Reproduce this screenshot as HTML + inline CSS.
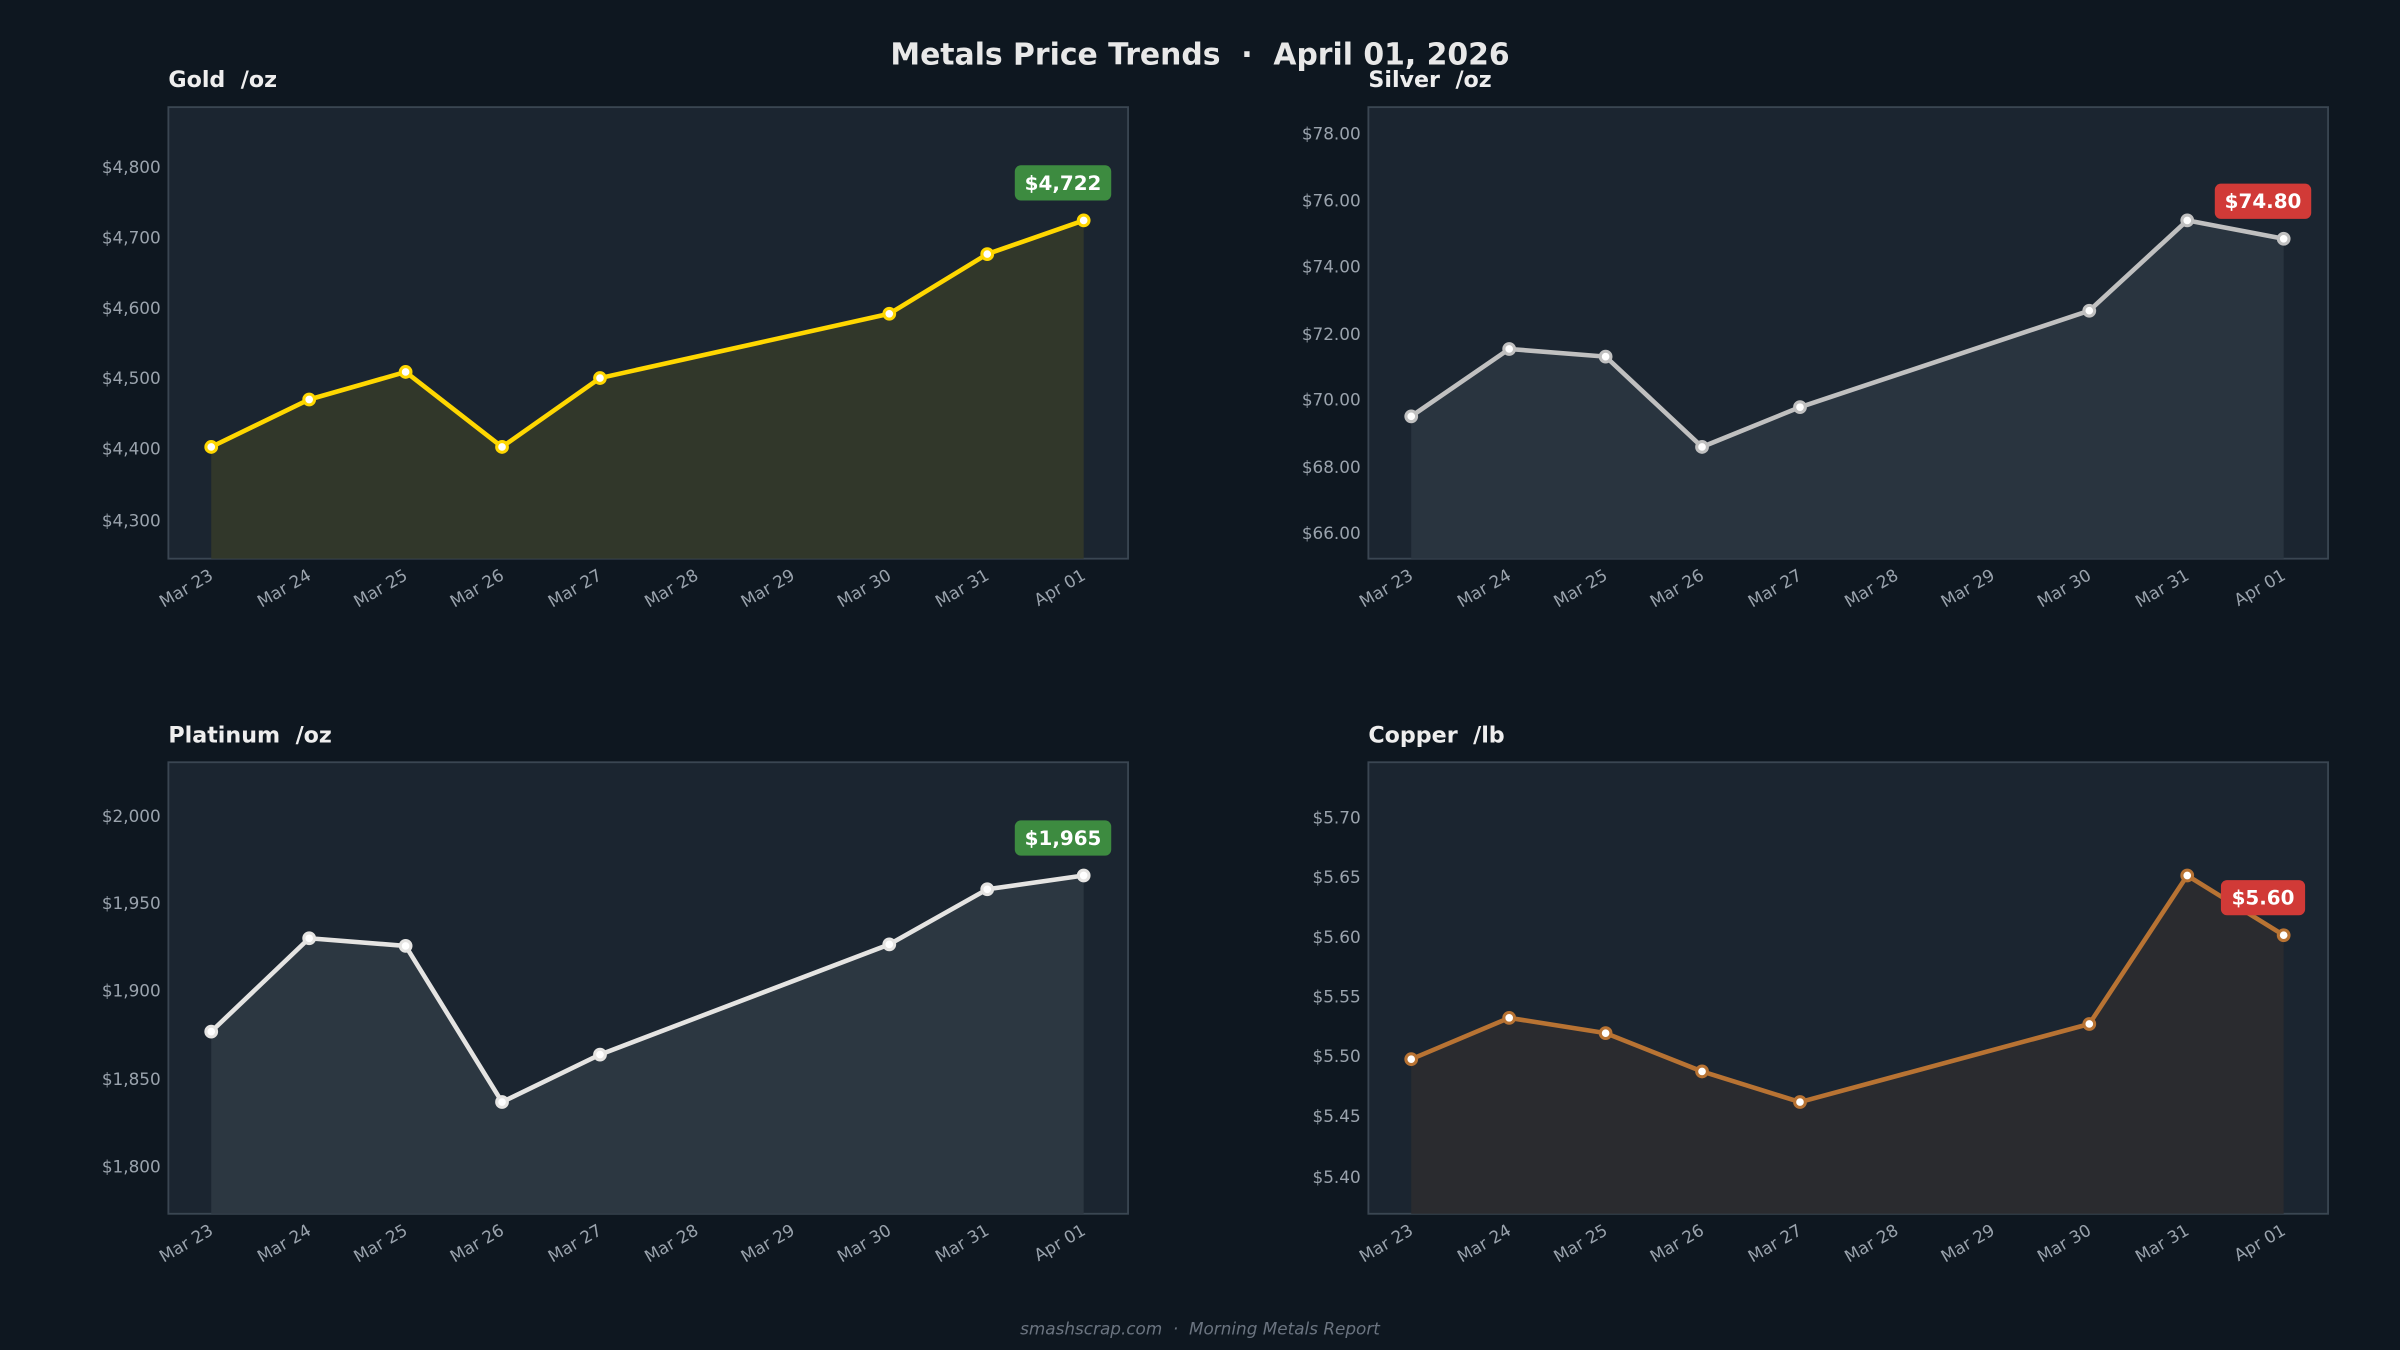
<!DOCTYPE html>
<html><head><meta charset="utf-8"><style>
html,body{margin:0;padding:0;background:#0e1720;}
svg{display:block}
text{font-family:"DejaVu Sans","Liberation Sans",sans-serif;white-space:pre}
</style></head><body>
<svg width="2400" height="1350" viewBox="0 0 1568 882" xmlns="http://www.w3.org/2000/svg" xml:space="preserve">
<rect width="1568" height="882" fill="#0e1720"/>
<text x="784" y="42" text-anchor="middle" font-size="19.5" font-weight="bold" fill="#e8e8e8">Metals Price Trends  ·  April 01, 2026</text>

<text x="110" y="57" font-size="14.5" font-weight="bold" fill="#eeeeee">Gold  /oz</text>
<rect x="110" y="70" width="627" height="295" fill="#1b2530" stroke="#3a4652" stroke-width="1.2"/>
<g font-size="11" fill="#9aa3ad" text-anchor="end">
<text x="105" y="113">$4,800</text><text x="105" y="159">$4,700</text><text x="105" y="205">$4,600</text><text x="105" y="251">$4,500</text><text x="105" y="297">$4,400</text><text x="105" y="344">$4,300</text>
</g>
<polygon points="138,365 138,292 202,261 265,243 328,292 392,247 581,205 645,166 708,144 708,365" fill="#31372a"/>
<polyline points="138,292 202,261 265,243 328,292 392,247 581,205 645,166 708,144" fill="none" stroke="#ffd700" stroke-width="3" stroke-linejoin="round"/>
<g fill="#fff" stroke="#ffd700" stroke-width="2"><circle cx="138" cy="292" r="3.5"/><circle cx="202" cy="261" r="3.5"/><circle cx="265" cy="243" r="3.5"/><circle cx="328" cy="292" r="3.5"/><circle cx="392" cy="247" r="3.5"/><circle cx="581" cy="205" r="3.5"/><circle cx="645" cy="166" r="3.5"/><circle cx="708" cy="144" r="3.5"/></g>
<rect x="663" y="108" width="63" height="23" rx="4" fill="#3d8b40"/>
<text x="694.5" y="124" text-anchor="middle" font-size="13" font-weight="bold" fill="#fff">$4,722</text>

<text x="894" y="57" font-size="14.5" font-weight="bold" fill="#eeeeee">Silver  /oz</text>
<rect x="894" y="70" width="627" height="295" fill="#1b2530" stroke="#3a4652" stroke-width="1.2"/>
<g font-size="11" fill="#9aa3ad" text-anchor="end">
<text x="889" y="91">$78.00</text><text x="889" y="135">$76.00</text><text x="889" y="178">$74.00</text><text x="889" y="222">$72.00</text><text x="889" y="265">$70.00</text><text x="889" y="309">$68.00</text><text x="889" y="352">$66.00</text>
</g>
<polygon points="922,365 922,272 986,228 1049,233 1112,292 1176,266 1365,203 1429,144 1492,156 1492,365" fill="#29343f"/>
<polyline points="922,272 986,228 1049,233 1112,292 1176,266 1365,203 1429,144 1492,156" fill="none" stroke="#c0c0c0" stroke-width="3" stroke-linejoin="round"/>
<g fill="#fff" stroke="#c0c0c0" stroke-width="2"><circle cx="922" cy="272" r="3.5"/><circle cx="986" cy="228" r="3.5"/><circle cx="1049" cy="233" r="3.5"/><circle cx="1112" cy="292" r="3.5"/><circle cx="1176" cy="266" r="3.5"/><circle cx="1365" cy="203" r="3.5"/><circle cx="1429" cy="144" r="3.5"/><circle cx="1492" cy="156" r="3.5"/></g>
<rect x="1447" y="120" width="63" height="23" rx="4" fill="#d13a37"/>
<text x="1478.5" y="136" text-anchor="middle" font-size="13" font-weight="bold" fill="#fff">$74.80</text>

<text x="110" y="485" font-size="14.5" font-weight="bold" fill="#eeeeee">Platinum  /oz</text>
<rect x="110" y="498" width="627" height="295" fill="#1b2530" stroke="#3a4652" stroke-width="1.2"/>
<g font-size="11" fill="#9aa3ad" text-anchor="end">
<text x="105" y="537">$2,000</text><text x="105" y="594">$1,950</text><text x="105" y="651">$1,900</text><text x="105" y="709">$1,850</text><text x="105" y="766">$1,800</text>
</g>
<polygon points="138,793 138,674 202,613 265,618 328,720 392,689 581,617 645,581 708,572 708,793" fill="#2c3741"/>
<polyline points="138,674 202,613 265,618 328,720 392,689 581,617 645,581 708,572" fill="none" stroke="#e5e4e2" stroke-width="3" stroke-linejoin="round"/>
<g fill="#fff" stroke="#e5e4e2" stroke-width="2"><circle cx="138" cy="674" r="3.5"/><circle cx="202" cy="613" r="3.5"/><circle cx="265" cy="618" r="3.5"/><circle cx="328" cy="720" r="3.5"/><circle cx="392" cy="689" r="3.5"/><circle cx="581" cy="617" r="3.5"/><circle cx="645" cy="581" r="3.5"/><circle cx="708" cy="572" r="3.5"/></g>
<rect x="663" y="536" width="63" height="23" rx="4" fill="#3d8b40"/>
<text x="694.5" y="552" text-anchor="middle" font-size="13" font-weight="bold" fill="#fff">$1,965</text>

<text x="894" y="485" font-size="14.5" font-weight="bold" fill="#eeeeee">Copper  /lb</text>
<rect x="894" y="498" width="627" height="295" fill="#1b2530" stroke="#3a4652" stroke-width="1.2"/>
<g font-size="11" fill="#9aa3ad" text-anchor="end">
<text x="889" y="538">$5.70</text><text x="889" y="577">$5.65</text><text x="889" y="616">$5.60</text><text x="889" y="655">$5.55</text><text x="889" y="694">$5.50</text><text x="889" y="733">$5.45</text><text x="889" y="773">$5.40</text>
</g>
<polygon points="922,793 922,692 986,665 1049,675 1112,700 1176,720 1365,669 1429,572 1492,611 1492,793" fill="#2a2b2f"/>
<polyline points="922,692 986,665 1049,675 1112,700 1176,720 1365,669 1429,572 1492,611" fill="none" stroke="#b87333" stroke-width="3" stroke-linejoin="round"/>
<g fill="#fff" stroke="#b87333" stroke-width="2"><circle cx="922" cy="692" r="3.5"/><circle cx="986" cy="665" r="3.5"/><circle cx="1049" cy="675" r="3.5"/><circle cx="1112" cy="700" r="3.5"/><circle cx="1176" cy="720" r="3.5"/><circle cx="1365" cy="669" r="3.5"/><circle cx="1429" cy="572" r="3.5"/><circle cx="1492" cy="611" r="3.5"/></g>
<rect x="1451" y="575" width="55" height="23" rx="4" fill="#d13a37"/>
<text x="1478.5" y="591" text-anchor="middle" font-size="13" font-weight="bold" fill="#fff">$5.60</text>

<g font-size="11" fill="#9aa3ad" text-anchor="end">
<text transform="translate(140,378) rotate(-30)">Mar 23</text>
<text transform="translate(204,378) rotate(-30)">Mar 24</text>
<text transform="translate(267,378) rotate(-30)">Mar 25</text>
<text transform="translate(330,378) rotate(-30)">Mar 26</text>
<text transform="translate(394,378) rotate(-30)">Mar 27</text>
<text transform="translate(457,378) rotate(-30)">Mar 28</text>
<text transform="translate(520,378) rotate(-30)">Mar 29</text>
<text transform="translate(583,378) rotate(-30)">Mar 30</text>
<text transform="translate(647,378) rotate(-30)">Mar 31</text>
<text transform="translate(710,378) rotate(-30)">Apr 01</text>
<text transform="translate(924,378) rotate(-30)">Mar 23</text>
<text transform="translate(988,378) rotate(-30)">Mar 24</text>
<text transform="translate(1051,378) rotate(-30)">Mar 25</text>
<text transform="translate(1114,378) rotate(-30)">Mar 26</text>
<text transform="translate(1178,378) rotate(-30)">Mar 27</text>
<text transform="translate(1241,378) rotate(-30)">Mar 28</text>
<text transform="translate(1304,378) rotate(-30)">Mar 29</text>
<text transform="translate(1367,378) rotate(-30)">Mar 30</text>
<text transform="translate(1431,378) rotate(-30)">Mar 31</text>
<text transform="translate(1494,378) rotate(-30)">Apr 01</text>
<text transform="translate(140,806) rotate(-30)">Mar 23</text>
<text transform="translate(204,806) rotate(-30)">Mar 24</text>
<text transform="translate(267,806) rotate(-30)">Mar 25</text>
<text transform="translate(330,806) rotate(-30)">Mar 26</text>
<text transform="translate(394,806) rotate(-30)">Mar 27</text>
<text transform="translate(457,806) rotate(-30)">Mar 28</text>
<text transform="translate(520,806) rotate(-30)">Mar 29</text>
<text transform="translate(583,806) rotate(-30)">Mar 30</text>
<text transform="translate(647,806) rotate(-30)">Mar 31</text>
<text transform="translate(710,806) rotate(-30)">Apr 01</text>
<text transform="translate(924,806) rotate(-30)">Mar 23</text>
<text transform="translate(988,806) rotate(-30)">Mar 24</text>
<text transform="translate(1051,806) rotate(-30)">Mar 25</text>
<text transform="translate(1114,806) rotate(-30)">Mar 26</text>
<text transform="translate(1178,806) rotate(-30)">Mar 27</text>
<text transform="translate(1241,806) rotate(-30)">Mar 28</text>
<text transform="translate(1304,806) rotate(-30)">Mar 29</text>
<text transform="translate(1367,806) rotate(-30)">Mar 30</text>
<text transform="translate(1431,806) rotate(-30)">Mar 31</text>
<text transform="translate(1494,806) rotate(-30)">Apr 01</text>
</g>

<text x="784" y="872" text-anchor="middle" font-size="11" font-style="italic" fill="#6b7480">smashscrap.com  ·  Morning Metals Report</text>
</svg>
</body></html>
